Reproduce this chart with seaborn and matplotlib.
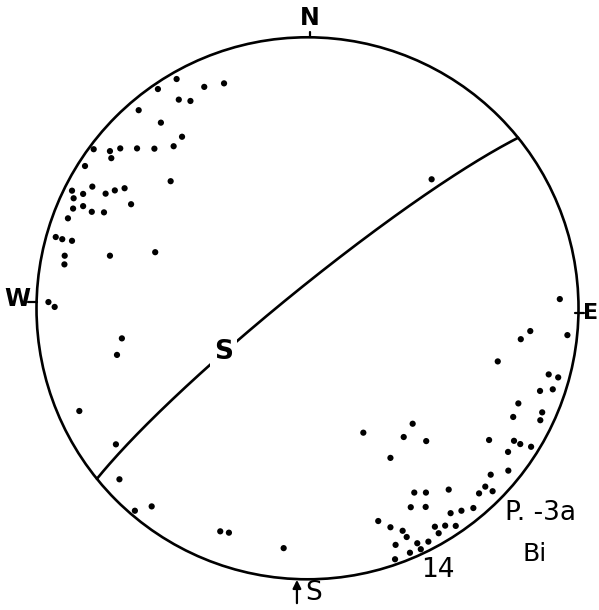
import numpy as np
import pandas as pd
import seaborn as sns
import matplotlib.pyplot as plt

# projected pole positions on the net (net radius = 100, x east, y north)
pole_x = [-48.3, -55.2, -38.1, -30.8, -47.5, -43.2, -62.3, -54.1, -46.3, -78.9,
          -72.9, -69.1, -62.9, -56.5, -49.4, -72.4, -82.1, -50.5, -86.9, -79.4,
          -67.5, -71.1, -82.8, -74.5, -86.3, -65.1, -82.8, -86.5, -79.6, -75.1,
          -88.4, -92.9, -90.5, -86.9, -56.2, -72.9, -89.6, -89.7, 45.8, -95.6,
          -93.3, -68.5, -70.3, -84.2, -70.7, -69.4, -63.7, -57.5, -32.2, -29.0,
          -8.8, 93.1, 95.9, 82.2, 78.7, 70.2, 89.0, 92.5, 85.8, 90.5,
          77.8, 86.6, 75.9, 85.9, 20.6, 38.8, 35.5, 43.8, 30.6, 67.0,
          76.2, 78.5, 82.5, 74.0, 67.6, 74.1, 39.4, 43.7, 52.1, 63.3,
          65.6, 68.3, 38.1, 43.6, 52.8, 56.8, 61.2, 26.1, 30.6, 35.1,
          36.6, 47.0, 50.8, 54.7, 48.4, 32.5, 40.5, 44.6, 37.8, 41.8,
          32.3]
pole_y = [84.6, 80.9, 81.7, 83.0, 77.0, 76.5, 73.1, 68.5, 63.3, 58.7,
          58.0, 59.0, 59.0, 58.9, 59.8, 55.4, 52.5, 46.9, 43.4, 44.9,
          44.3, 43.5, 42.2, 42.3, 40.6, 38.4, 37.7, 36.8, 35.6, 35.4,
          33.2, 26.3, 25.5, 24.9, 20.7, 19.4, 19.4, 16.2, 47.6, 2.3,
          0.5, -11.1, -17.2, -37.9, -50.2, -63.1, -74.7, -73.1, -82.3, -82.8,
          -88.5, 3.4, -9.9, -8.4, -11.4, -19.6, -24.4, -25.5, -30.5, -29.9,
          -35.1, -38.4, -40.1, -41.3, -45.9, -42.6, -47.5, -49.0, -55.2, -48.6,
          -48.9, -50.1, -51.1, -53.0, -61.4, -59.9, -68.0, -68.0, -66.9, -68.3,
          -65.8, -67.5, -73.4, -73.3, -75.6, -74.7, -73.7, -78.5, -80.8, -82.1,
          -84.4, -80.6, -80.2, -80.3, -83.0, -87.3, -86.7, -86.1, -90.2, -88.9,
          -92.6]

# foliation plane S (right-hand rule strike / dip)
s_strike = 231
s_dip = 84


def plane_trace(strike, dip, radius=100, n=181):
    # equal-area (Schmidt) lower-hemisphere trace of a plane
    rake = np.radians(np.linspace(0, 180, n))
    st, dd, dp = np.radians(strike), np.radians(strike + 90), np.radians(dip)
    ve = np.cos(rake) * np.sin(st) + np.sin(rake) * np.cos(dp) * np.sin(dd)
    vn = np.cos(rake) * np.cos(st) + np.sin(rake) * np.cos(dp) * np.cos(dd)
    vd = np.sin(rake) * np.sin(dp)
    k = radius / np.sqrt(1 + vd)
    return pd.DataFrame({"x": ve * k, "y": vn * k, "i": np.arange(n)})


poles = pd.DataFrame({"x": pole_x, "y": pole_y})
trace = plane_trace(s_strike, s_dip)

sns.set_style("white")
plt.rcParams["text.color"] = "black"
fig = plt.figure(figsize=(5.99, 6.10), dpi=100)
ax = fig.add_axes([0, 0, 1, 1])

ax.add_patch(plt.Circle((0, 0), 100, fill=False, color="black", lw=1.9))
sns.lineplot(data=trace, x="x", y="y", sort=False, estimator=None,
             color="black", lw=1.9, ax=ax)
sns.scatterplot(data=poles, x="x", y="y", color="black", s=20,
                edgecolor="none", ax=ax)

# compass marks
ax.plot([0.9, 0.9], [100, 102], color="black", lw=1.6)
ax.text(0.9, 107.1, "N", ha="center", va="center", fontsize=17, fontweight="bold")
ax.plot([-103.1, -99.8], [2.4, 2.4], color="black", lw=1.6)
ax.text(-107.2, 3.4, "W", ha="center", va="center", fontsize=17, fontweight="bold")
ax.plot([98.7, 101.9], [-1.85, -1.85], color="black", lw=1.6)
ax.text(101.7, -1.9, "E", ha="left", va="center", fontsize=16, fontweight="bold")
ax.annotate("", xy=(-3.9, -100.2), xytext=(-3.9, -108.8),
            arrowprops=dict(arrowstyle="-|>", color="black", lw=1.6,
                            mutation_scale=12, shrinkA=0, shrinkB=0))
ax.text(2.3, -105.2, "S", ha="center", va="center", fontsize=19)

ax.text(-31.1, -16.0, "S", ha="center", va="center", fontsize=19,
        fontweight="bold",
        bbox=dict(facecolor="white", edgecolor="none", pad=3))
ax.text(48.2, -96.6, "14", ha="center", va="center", fontsize=19)
ax.text(72.9, -75.5, "P. -3a", ha="left", va="center", fontsize=19)
ax.text(79.5, -90.7, "Bi", ha="left", va="center", fontsize=18)

ax.set_xlim(-113.47, 107.56)
ax.set_ylim(-111.33, 113.76)
ax.set_aspect("equal")
ax.axis("off")

fig.savefig("out.png", dpi=100, facecolor="white")
